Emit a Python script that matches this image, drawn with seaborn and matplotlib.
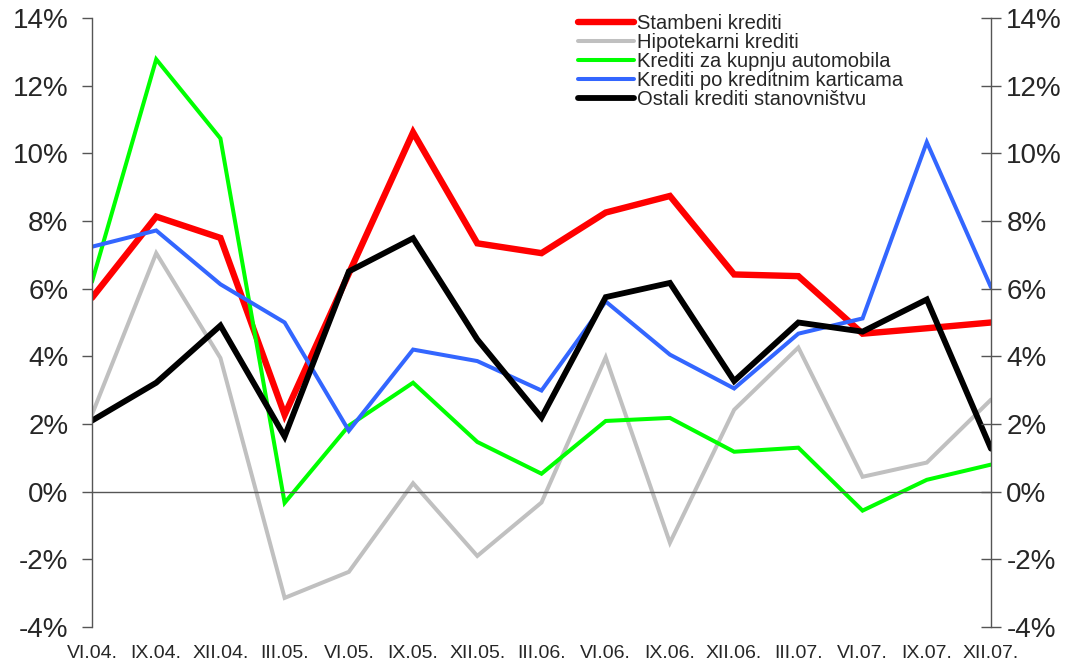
import numpy as np
import pandas as pd
import matplotlib
import matplotlib.pyplot as plt
import seaborn as sns
from matplotlib.ticker import FuncFormatter

matplotlib.use('Agg')

# Data (% change)
periods = ['VI.04.', 'IX.04.', 'XII.04.', 'III.05.', 'VI.05.', 'IX.05.', 'XII.05.',
           'III.06.', 'VI.06.', 'IX.06.', 'XII.06.', 'III.07.', 'VI.07.', 'IX.07.', 'XII.07.']

stambeni = [5.73, 8.13, 7.5, 2.27, 6.45, 10.62, 7.34, 7.05, 8.25, 8.74, 6.42, 6.37, 4.67, 4.83, 5.0]
hipotekarni = [2.28, 7.05, 3.95, -3.14, -2.37, 0.25, -1.9, -0.32, 3.97, -1.51, 2.42, 4.26, 0.44, 0.86, 2.72]
automobili = [6.2, 12.78, 10.44, -0.33, 1.95, 3.22, 1.47, 0.53, 2.09, 2.18, 1.18, 1.3, -0.56, 0.35, 0.8]
kartice = [7.24, 7.72, 6.13, 5.0, 1.8, 4.2, 3.86, 2.99, 5.62, 4.05, 3.05, 4.67, 5.12, 10.33, 6.04]
ostali = [2.1, 3.22, 4.91, 1.63, 6.51, 7.49, 4.5, 2.19, 5.75, 6.17, 3.27, 5.0, 4.73, 5.68, 1.27]

series_names = ['Stambeni krediti', 'Hipotekarni krediti', 'Krediti za kupnju automobila',
                'Krediti po kreditnim karticama', 'Ostali krediti stanovništvu']
series_values = [stambeni, hipotekarni, automobili, kartice, ostali]
colors = ['#ff0000', '#c0c0c0', '#00ff00', '#3366ff', '#000000']
widths = [4.6, 2.9, 2.9, 2.9, 4.2]

rows = []
for name, vals in zip(series_names, series_values):
    for i, v in enumerate(vals):
        rows.append({'serie': name, 'pos': i, 'value': v})
df = pd.DataFrame(rows)

sns.set_style('white')
plt.rcParams['font.family'] = ['Liberation Sans', 'DejaVu Sans']

fig = plt.figure(figsize=(10.77, 6.65), dpi=100)
ax = fig.add_axes([92 / 1077, 1 - 627 / 665, (991 - 92) / 1077, (627 - 18) / 665])

for name, c, lw in zip(series_names, colors, widths):
    sns.lineplot(data=df[df['serie'] == name], x='pos', y='value', color=c,
                 linewidth=lw, label=name, ax=ax, solid_joinstyle='miter')

ax.set_xlim(0, len(periods) - 1)
ax.set_ylim(-4, 14)
ax.set_xlabel('')
ax.set_ylabel('')

axis_col = '#555555'
pct = FuncFormatter(lambda v, p: f'{v:.0f}%')

# left axis
ax.set_yticks(np.arange(-4, 15, 2))
ax.yaxis.set_major_formatter(pct)
ax.tick_params(axis='y', direction='out', length=7, width=1, color=axis_col,
               labelsize=20, pad=10)
for s in ['top', 'right']:
    ax.spines[s].set_visible(False)
ax.spines['left'].set_color(axis_col)
ax.spines['left'].set_linewidth(1)

# zero line with tick marks
ax.spines['bottom'].set_position(('data', 0))
ax.spines['bottom'].set_color(axis_col)
ax.spines['bottom'].set_linewidth(1)
ax.set_xticks(range(len(periods)))
ax.tick_params(axis='x', direction='out', length=5, width=1, color=axis_col,
               labelbottom=False)

# category labels along the bottom
sec = ax.secondary_xaxis('bottom')
sec.set_xticks(range(len(periods)))
sec.set_xticklabels(periods)
sec.tick_params(length=0, labelsize=14, pad=13)
sec.spines['bottom'].set_visible(False)

# right axis
ax2 = ax.twinx()
ax2.set_ylim(ax.get_ylim())
ax2.set_yticks(np.arange(-4, 15, 2))
ax2.yaxis.set_major_formatter(pct)
ax2.tick_params(axis='y', direction='inout', length=14, width=1, color=axis_col,
                labelsize=20, pad=4)
for s in ['top', 'left', 'bottom']:
    ax2.spines[s].set_visible(False)
ax2.spines['right'].set_color(axis_col)
ax2.spines['right'].set_linewidth(1)
ax2.grid(False)

leg = ax.legend(loc='upper left', bbox_to_anchor=(578 / 1077, 1 - 14 / 665),
                bbox_transform=fig.transFigure, frameon=False, fontsize=14.5,
                borderpad=0, borderaxespad=0, labelspacing=0.0,
                handlelength=2.8, handletextpad=0.15)

fig.savefig('out.png', dpi=100)
